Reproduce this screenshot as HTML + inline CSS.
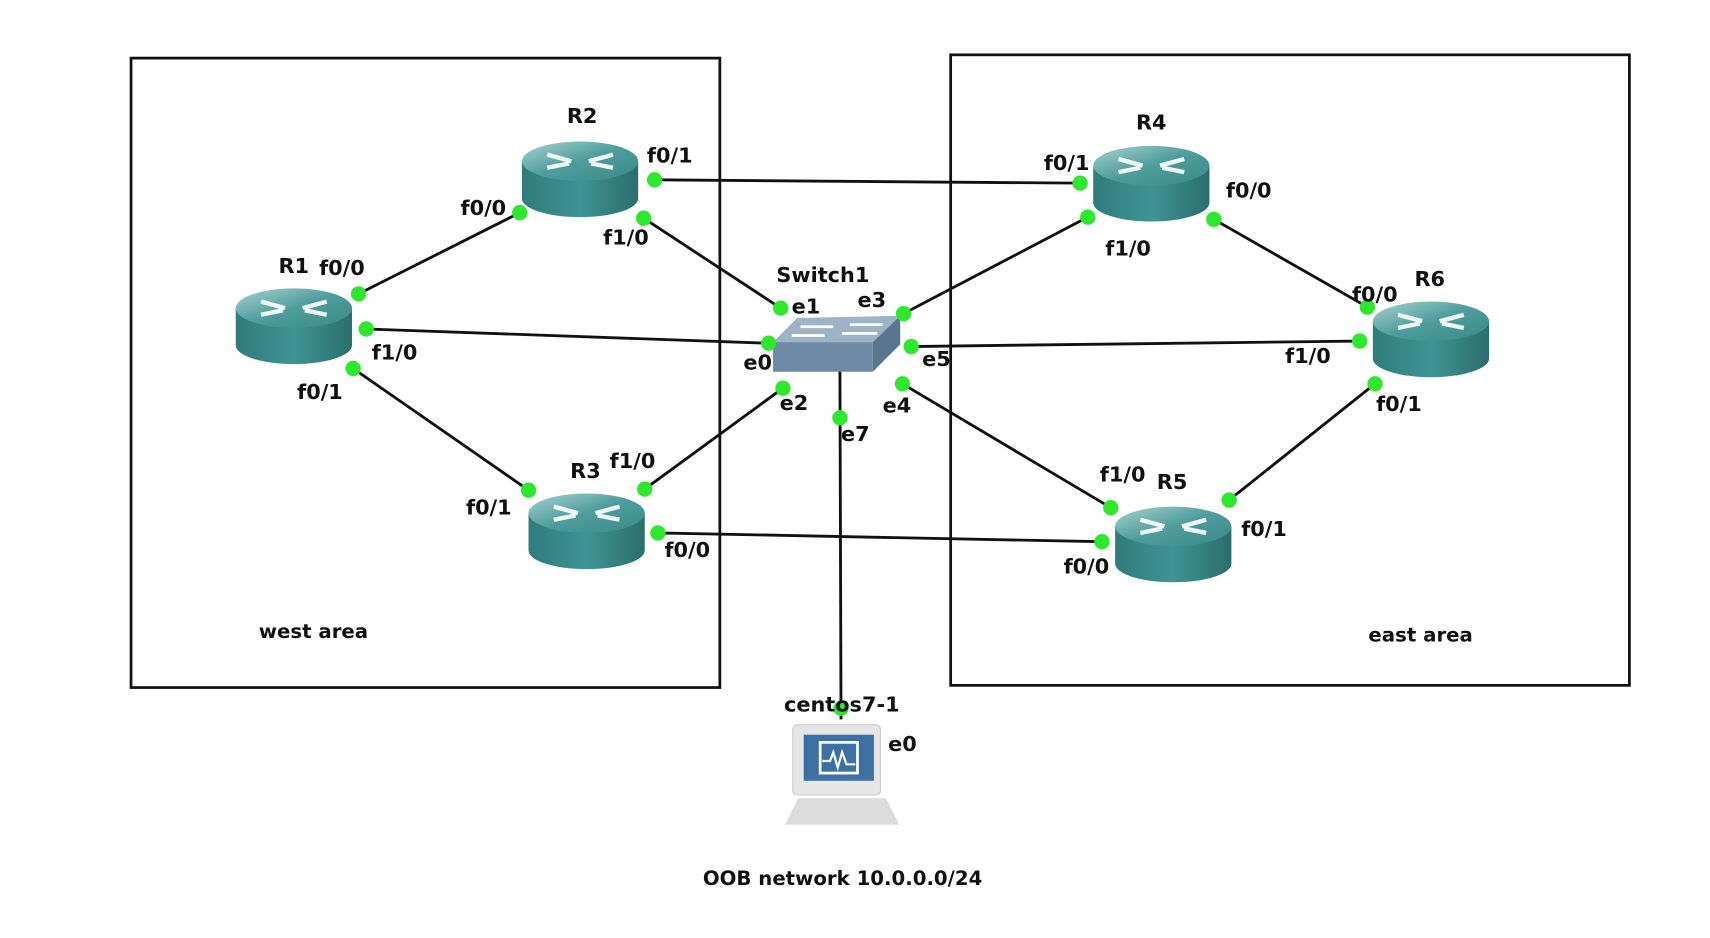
<!DOCTYPE html>
<html><head><meta charset="utf-8"><style>
html,body{margin:0;padding:0;background:#fff;width:1710px;height:938px;overflow:hidden}
svg{display:block}
text{font-family:"DejaVu Sans","Liberation Sans",sans-serif;font-weight:bold;font-size:19px;fill:#111}
</style></head><body>
<svg width="1710" height="938" viewBox="0 0 1559.5 855.4" preserveAspectRatio="none" xmlns="http://www.w3.org/2000/svg">
<defs>
<linearGradient id="rb" x1="0" x2="1"><stop offset="0" stop-color="#2f7c7b"/><stop offset="0.5" stop-color="#3f9494"/><stop offset="1" stop-color="#2a6e6d"/></linearGradient>
<linearGradient id="rt" x1="0" x2="1" y1="0" y2="1"><stop offset="0" stop-color="#a9d3d2"/><stop offset="0.5" stop-color="#4e9d9c"/><stop offset="1" stop-color="#3a8a89"/></linearGradient>
<g id="router">
<path d="M-53,-16 L-53,18 A53,17 0 0 0 53,18 L53,-16 Z" fill="url(#rb)"/>
<ellipse cx="0" cy="-16" rx="53" ry="18" fill="url(#rt)"/>
<g stroke="#fff" stroke-width="4" fill="none" opacity="0.9">
<path d="M-30,-22 L-8,-16 M-30,-10 L-10,-14 M30,-22 L8,-16 M30,-10 L10,-14"/>
</g>
</g>
</defs>
<rect x="119.5" y="53" width="537" height="574" fill="none" stroke="#111" stroke-width="2.5"/>
<rect x="867" y="50" width="619" height="575" fill="none" stroke="#111" stroke-width="2.5"/>
<g stroke="#111" stroke-width="2.6">
<line x1="597" y1="164" x2="985" y2="167"/>
<line x1="474" y1="194" x2="327" y2="268"/>
<line x1="587" y1="199" x2="712" y2="281"/>
<line x1="334" y1="300" x2="701" y2="313"/>
<line x1="322" y1="336" x2="482" y2="447"/>
<line x1="588" y1="446" x2="714" y2="354"/>
<line x1="600" y1="486" x2="1005" y2="494"/>
<line x1="824" y1="286" x2="992" y2="198"/>
<line x1="1107" y1="200" x2="1247" y2="280"/>
<line x1="831" y1="316" x2="1240" y2="311"/>
<line x1="823" y1="350" x2="1013" y2="463"/>
<line x1="1254" y1="350" x2="1121" y2="456"/>
<line x1="766" y1="336" x2="767" y2="656"/>
</g>
<use href="#router" x="268" y="297"/>
<use href="#router" x="529" y="163"/>
<use href="#router" x="535" y="484"/>
<use href="#router" x="1050" y="167"/>
<use href="#router" x="1070" y="496"/>
<use href="#router" x="1305" y="309"/>
<!-- switch -->
<polygon points="705,312 727,290 821,288 796,312" fill="#9fb3c8"/>
<polygon points="705,312 796,312 796,339 705,339" fill="#6f8aa6"/>
<polygon points="796,312 821,288 821,314 796,339" fill="#587690"/>
<g stroke="#fff" stroke-width="2.5"><line x1="730" y1="298" x2="760" y2="298"/><line x1="775" y1="296" x2="805" y2="296"/><line x1="722" y1="306" x2="752" y2="306"/><line x1="768" y1="304" x2="800" y2="304"/></g>
<!-- PC -->
<rect x="723" y="661" width="80" height="64" rx="4" fill="#e6e6e6" stroke="#ccc"/>
<rect x="733" y="670" width="64" height="42" fill="#3c6fa3"/>
<rect x="748" y="677" width="34" height="28" fill="none" stroke="#fff" stroke-width="2.5"/>
<polyline points="750,694 757,694 760,686 764,700 768,686 772,697 780,697" fill="none" stroke="#fff" stroke-width="2"/>
<polygon points="728,728 808,728 820,752 716,752" fill="#dcdcdc"/>
<g fill="#2ee82e">
<circle cx="597" cy="164" r="7"/><circle cx="985" cy="167" r="7"/>
<circle cx="474" cy="194" r="7"/><circle cx="327" cy="268" r="7"/>
<circle cx="587" cy="199" r="7"/><circle cx="712" cy="281" r="7"/>
<circle cx="334" cy="300" r="7"/><circle cx="701" cy="313" r="7"/>
<circle cx="322" cy="336" r="7"/><circle cx="482" cy="447" r="7"/>
<circle cx="588" cy="446" r="7"/><circle cx="714" cy="354" r="7"/>
<circle cx="600" cy="486" r="7"/><circle cx="1005" cy="494" r="7"/>
<circle cx="824" cy="286" r="7"/><circle cx="992" cy="198" r="7"/>
<circle cx="1107" cy="200" r="7"/><circle cx="1247" cy="280" r="7"/>
<circle cx="831" cy="316" r="7"/><circle cx="1240" cy="311" r="7"/>
<circle cx="823" cy="350" r="7"/><circle cx="1013" cy="463" r="7"/>
<circle cx="1254" cy="350" r="7"/><circle cx="1121" cy="456" r="7"/>
<circle cx="766" cy="381" r="7"/><circle cx="767" cy="646" r="7"/>
</g>
<text x="517" y="112">R2</text>
<text x="590" y="148">f0/1</text>
<text x="420" y="196">f0/0</text>
<text x="550" y="223">f1/0</text>
<text x="254" y="249">R1</text>
<text x="291" y="251">f0/0</text>
<text x="339" y="328">f1/0</text>
<text x="271" y="364">f0/1</text>
<text x="520" y="436">R3</text>
<text x="556" y="427">f1/0</text>
<text x="425" y="469">f0/1</text>
<text x="606" y="508">f0/0</text>
<text x="708" y="257">Switch1</text>
<text x="722" y="286">e1</text>
<text x="782" y="280">e3</text>
<text x="678" y="337">e0</text>
<text x="841" y="334">e5</text>
<text x="711" y="374">e2</text>
<text x="805" y="376">e4</text>
<text x="767" y="402">e7</text>
<text x="1036" y="118">R4</text>
<text x="952" y="155">f0/1</text>
<text x="1118" y="180">f0/0</text>
<text x="1008" y="233">f1/0</text>
<text x="1290" y="261">R6</text>
<text x="1233" y="275">f0/0</text>
<text x="1172" y="331">f1/0</text>
<text x="1255" y="375">f0/1</text>
<text x="1003" y="439">f1/0</text>
<text x="1055" y="446">R5</text>
<text x="1132" y="489">f0/1</text>
<text x="970" y="523">f0/0</text>
<text x="236" y="582" style="font-size:18px">west area</text>
<text x="1248" y="585" style="font-size:18px">east area</text>
<text x="715" y="649">centos7-1</text>
<text x="810" y="685">e0</text>
<text x="641" y="807" style="font-size:18px">OOB network 10.0.0.0/24</text>
</svg>
</body></html>
